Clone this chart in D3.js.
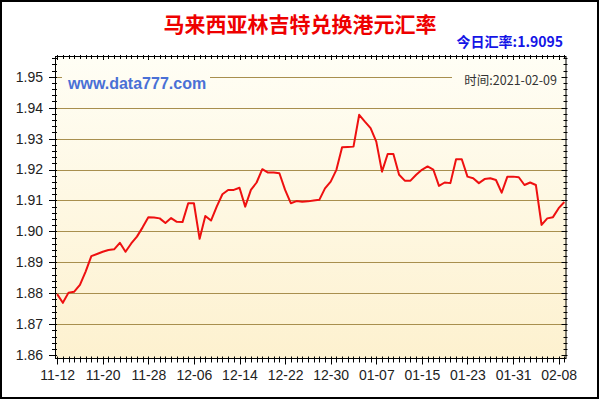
<!DOCTYPE html>
<html>
<head>
<meta charset="utf-8">
<script src="https://cdn.jsdelivr.net/npm/d3@7"></script>
<style>
  html, body { margin: 0; padding: 0; background: #fff; }
  svg { display: block; }
</style>
</head>
<body>
<svg id="chart" width="600" height="400"></svg>
<script>
// ---- data ----
const titleText = "马来西亚林吉特兑换港元汇率";
const todayText = "今日汇率:1.9095";
const siteText = "www.data777.com";
const timeText = "时间:2021-02-09";
const startDate = "2020-11-12";
const endDate = "2021-02-09";
const rates = [
  1.8797, 1.8769, 1.8802, 1.8805, 1.8827, 1.8870, 1.8920, 1.8927, 1.8934, 1.8940,
  1.8942, 1.8963, 1.8934, 1.8961, 1.8983, 1.9013, 1.9046, 1.9045, 1.9042, 1.9027,
  1.9043, 1.9031, 1.9030, 1.9091, 1.9091, 1.8976, 1.9050, 1.9035, 1.9080, 1.9120,
  1.9134, 1.9134, 1.9141, 1.9080, 1.9134, 1.9158, 1.9201, 1.9190, 1.9190, 1.9188,
  1.9134, 1.9091, 1.9098, 1.9096, 1.9097, 1.9100, 1.9102, 1.9139, 1.9161, 1.9199,
  1.9272, 1.9273, 1.9274, 1.9377, 1.9355, 1.9334, 1.9290, 1.9193, 1.9250, 1.9250,
  1.9183, 1.9164, 1.9164, 1.9183, 1.9199, 1.9210, 1.9200, 1.9147, 1.9158, 1.9156,
  1.9233, 1.9233, 1.9177, 1.9172, 1.9156, 1.9169, 1.9172, 1.9166, 1.9125, 1.9177,
  1.9177, 1.9175, 1.9150, 1.9158, 1.9150, 1.9021, 1.9042, 1.9046, 1.9075, 1.9095
];
const xTickLabels = ["2020-11-12","2020-11-20","2020-11-28","2020-12-06","2020-12-14","2020-12-22",
                     "2020-12-30","2021-01-07","2021-01-15","2021-01-23","2021-01-31","2021-02-08"];
const yTickValues = [1.86, 1.87, 1.88, 1.89, 1.90, 1.91, 1.92, 1.93, 1.94, 1.95];
const yDomain = [1.8589, 1.9567];

// ---- layout ----
const parse = d3.timeParse("%Y-%m-%d");
const fmt = d3.timeFormat("%m-%d");
const t0 = parse(startDate), t1 = parse(endDate);
const days = d3.timeDay.range(t0, d3.timeDay.offset(t1, 1));
const data = days.map((d, i) => ({ date: d, value: rates[i] }));

const L = 55, R = 566.5, T = 56, B = 358.5;
const svg = d3.select("#chart");

const x = d3.scaleTime()
  .domain([d3.timeHour.offset(t0, -8.4), d3.timeHour.offset(t1, 9.4)])
  .range([L, R]);
const y = d3.scaleLinear().domain(yDomain).range([B, T]);

// outer border
svg.append("rect").attr("x", 1).attr("y", 1).attr("width", 597).attr("height", 397)
  .attr("fill", "#fff").attr("stroke", "#000").attr("stroke-width", 2);

// gradient
const defs = svg.append("defs");
const grad = defs.append("linearGradient").attr("id", "bg")
  .attr("gradientUnits", "userSpaceOnUse")
  .attr("x1", 0).attr("y1", T).attr("x2", 0).attr("y2", B);
grad.append("stop").attr("offset", "0%").attr("stop-color", "#FFFEF5");
grad.append("stop").attr("offset", "100%").attr("stop-color", "#FDF1CF");

svg.append("rect").attr("x", L).attr("y", T).attr("width", R - L).attr("height", B - T)
  .attr("fill", "url(#bg)");

// grid lines
svg.append("g").selectAll("line").data(yTickValues.filter(v => v > 1.865))
  .join("line")
  .attr("x1", L).attr("x2", R)
  .attr("y1", d => Math.round(y(d)) + 0.5).attr("y2", d => Math.round(y(d)) + 0.5)
  .attr("stroke", "#A88F4E").attr("stroke-width", 1);

// text boxes covering the grid line
svg.append("rect").attr("x", 62).attr("y", 70).attr("width", 148).attr("height", 22).attr("fill", "url(#bg)");
svg.append("rect").attr("x", 452).attr("y", 70).attr("width", 110).attr("height", 20).attr("fill", "url(#bg)");

svg.append("text").attr("x", 68).attr("y", 89)
  .attr("font-family", "Liberation Sans, Arial, sans-serif").attr("font-weight", "bold")
  .attr("font-size", 16).attr("fill", "#4A70D6").text(siteText);

svg.append("text").attr("x", 557).attr("y", 85).attr("text-anchor", "end")
  .attr("font-family", "Noto Sans CJK SC, sans-serif")
  .attr("font-size", 12.5).attr("fill", "#333").text(timeText);

// line
const line = d3.line().x(d => x(d.date)).y(d => y(d.value));
svg.append("path").datum(data).attr("d", line)
  .attr("fill", "none").attr("stroke", "#EE1010").attr("stroke-width", 2)
  .attr("stroke-linejoin", "round");

// frame
svg.append("rect").attr("x", L + 0.5).attr("y", T + 0.5).attr("width", R - L - 1).attr("height", B - T - 0.5)
  .attr("fill", "none").attr("stroke", "#000").attr("stroke-width", 1);

// y ticks (minor every 0.002)
const yMinor = d3.range(Math.round(1.86 * 500), Math.floor(yDomain[1] * 500) + 1).map(k => k / 500);
const isMajorY = v => Math.abs(v * 100 - Math.round(v * 100)) < 1e-6;
const tk = svg.append("g").attr("stroke", "#000").attr("stroke-width", 1);
tk.selectAll(".yl").data(yMinor).join("line")
  .attr("x1", d => isMajorY(d) ? L - 6 : L - 3).attr("x2", L + 2)
  .attr("y1", d => Math.round(y(d)) + 0.5).attr("y2", d => Math.round(y(d)) + 0.5);
tk.selectAll(".yr").data(yMinor).join("line")
  .attr("x1", d => isMajorY(d) ? R - 5 : R - 3).attr("x2", R + 1)
  .attr("y1", d => Math.round(y(d)) + 0.5).attr("y2", d => Math.round(y(d)) + 0.5);

// x ticks (daily)
const labelDates = xTickLabels.map(parse);
const isMajorX = d => labelDates.some(l => +l === +d);
tk.selectAll(".xb").data(days).join("line")
  .attr("x1", d => Math.round(x(d)) + 0.5).attr("x2", d => Math.round(x(d)) + 0.5)
  .attr("y1", B - 2).attr("y2", d => isMajorX(d) ? B + 6 : B + 4);
tk.selectAll(".xt").data(days).join("line")
  .attr("x1", d => Math.round(x(d)) + 0.5).attr("x2", d => Math.round(x(d)) + 0.5)
  .attr("y1", T - 1).attr("y2", d => isMajorX(d) ? T + 4 : T + 3);

// y axis labels
const yAxis = d3.axisLeft(y).tickValues(yTickValues).tickSize(0).tickPadding(0)
  .tickFormat(d3.format(".2f"));
const gy = svg.append("g").attr("transform", `translate(${L - 12},0)`).call(yAxis);
gy.select(".domain").remove();
gy.selectAll("text").attr("font-family", "Liberation Sans, Arial, sans-serif")
  .attr("font-size", 14).attr("fill", "#222");

// x axis labels
const xAxis = d3.axisBottom(x).tickValues(labelDates).tickSize(0).tickPadding(0)
  .tickFormat(fmt);
const gx = svg.append("g").attr("transform", `translate(0,${B + 12})`).call(xAxis);
gx.select(".domain").remove();
gx.selectAll("text").attr("font-family", "Liberation Sans, Arial, sans-serif")
  .attr("font-size", 14).attr("fill", "#222");

// titles
svg.append("text").attr("x", 300).attr("y", 32).attr("text-anchor", "middle")
  .attr("font-family", "Noto Sans CJK SC, sans-serif").attr("font-weight", "bold")
  .attr("font-size", 21).attr("fill", "#EE0000").text(titleText);

svg.append("text").attr("x", 563).attr("y", 47).attr("text-anchor", "end")
  .attr("font-family", "Noto Sans CJK SC, sans-serif").attr("font-weight", "bold")
  .attr("font-size", 14).attr("fill", "#1414E6").text(todayText);
</script>
</body>
</html>
